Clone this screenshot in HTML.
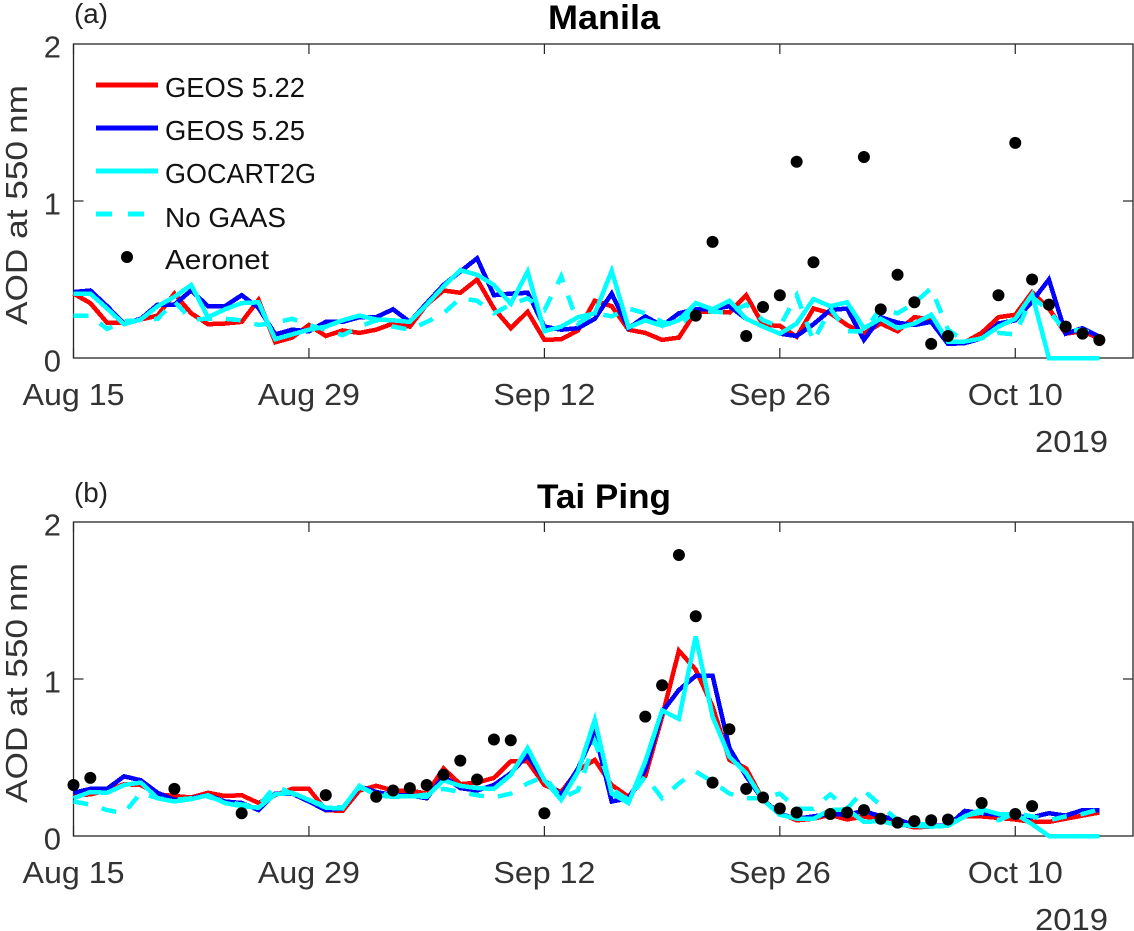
<!DOCTYPE html>
<html lang="en">
<head>
<meta charset="utf-8">
<title>AOD at 550 nm: Manila and Tai Ping</title>
<style>
html,body{margin:0;padding:0;background:#fff;width:1134px;height:931px;overflow:hidden}
svg{display:block}
text{font-family:"Liberation Sans",sans-serif}
.tick{fill:#333;font-size:31px}
.ylab{fill:#333;font-size:31px}
.ttl{fill:#000;font-size:34px;font-weight:bold}
.tag{fill:#222;font-size:28px}
.leg{fill:#111;font-size:28px}
</style>
</head>
<body>
<svg id="figure" xmlns="http://www.w3.org/2000/svg" width="1134" height="931" viewBox="0 0 1134 931">
  <rect x="0" y="0" width="1134" height="931" fill="#fff"/>
  <g id="panel-a"></g>
  <g id="panel-b"></g>

  <text class="tag" x="74" y="23" textLength="34" lengthAdjust="spacingAndGlyphs">(a)</text>
  <text class="ttl" x="604" y="29" text-anchor="middle" textLength="112" lengthAdjust="spacingAndGlyphs">Manila</text>
  <text class="ylab" transform="translate(27,205) rotate(-90)" text-anchor="middle" textLength="240" lengthAdjust="spacingAndGlyphs">AOD at 550&#8201;nm</text>
  <text class="tick" x="1035" y="452" textLength="73" lengthAdjust="spacingAndGlyphs">2019</text>

  <text class="tag" x="74" y="502" textLength="34" lengthAdjust="spacingAndGlyphs">(b)</text>
  <text class="ttl" x="604" y="508" text-anchor="middle" textLength="134" lengthAdjust="spacingAndGlyphs">Tai Ping</text>
  <text class="ylab" transform="translate(27,683) rotate(-90)" text-anchor="middle" textLength="240" lengthAdjust="spacingAndGlyphs">AOD at 550&#8201;nm</text>
  <text class="tick" x="1035" y="930" textLength="73" lengthAdjust="spacingAndGlyphs">2019</text>

  <g>
    <g>
      <line x1="96" y1="85" x2="158" y2="85" stroke="#f00" stroke-width="5"/>
      <text class="leg" x="165" y="97" textLength="140" lengthAdjust="spacingAndGlyphs">GEOS 5.22</text>
    </g>
    <g>
      <line x1="96" y1="128" x2="158" y2="128" stroke="#00f" stroke-width="5"/>
      <text class="leg" x="165" y="140" textLength="140" lengthAdjust="spacingAndGlyphs">GEOS 5.25</text>
    </g>
    <g>
      <line x1="96" y1="171" x2="158" y2="171" stroke="#0ff" stroke-width="5"/>
      <text class="leg" x="165" y="183" textLength="151" lengthAdjust="spacingAndGlyphs">GOCART2G</text>
    </g>
    <g>
      <line x1="96" y1="214" x2="158" y2="214" stroke="#0ff" stroke-width="5" stroke-dasharray="16 16"/>
      <text class="leg" x="165" y="227" textLength="121" lengthAdjust="spacingAndGlyphs">No GAAS</text>
    </g>
    <g>
      <circle cx="127" cy="257" r="6" fill="#000"/>
      <text class="leg" x="165" y="269" textLength="104" lengthAdjust="spacingAndGlyphs">Aeronet</text>
    </g>
  </g>
</svg>

<script>
// Axis tick data
const xTickDays = [0, 14, 28, 42, 56];
const xTickLabels = ["Aug 15", "Aug 29", "Sep 12", "Sep 26", "Oct 10"];
const yTickValues = [0, 1, 2];
const yTickLabels = ["0", "1", "2"];

// Manila daily AOD, one value per day from Aug 15
const manilaGeos522 = [.41,.35,.225,.225,.245,.27,.41,.285,.215,.22,.23,.37,.10,.13,.21,.14,.175,.16,.18,.22,.20,.34,.43,.415,.50,.315,.19,.295,.115,.12,.175,.365,.33,.18,.16,.115,.13,.295,.295,.29,.40,.21,.205,.135,.315,.285,.21,.155,.22,.17,.26,.245,.095,.10,.16,.26,.275,.42,.315,.155,.17,.125];
const manilaGeos525 = [.42,.43,.33,.22,.25,.34,.34,.43,.33,.33,.40,.32,.15,.18,.17,.23,.23,.26,.26,.31,.23,.35,.465,.55,.635,.40,.41,.415,.20,.18,.19,.25,.41,.19,.265,.205,.285,.31,.31,.33,.25,.20,.155,.14,.215,.305,.315,.115,.26,.225,.21,.23,.09,.095,.125,.22,.24,.36,.50,.155,.19,.135];
const manilaGocart2g = [.41,.41,.315,.215,.245,.33,.39,.465,.26,.31,.35,.355,.12,.15,.18,.20,.24,.27,.245,.24,.23,.34,.455,.56,.53,.465,.345,.55,.17,.20,.26,.285,.555,.195,.24,.205,.24,.35,.31,.365,.25,.20,.155,.22,.375,.33,.355,.19,.25,.19,.22,.275,.105,.105,.125,.20,.25,.405,0,0,0,0];
const manilaNoGaas = [.27,.27,.185,.235,.24,.25,.36,.245,.25,.25,.24,.21,.225,.25,.21,.18,.145,.20,.24,.20,.18,.23,.285,.38,.365,.285,.34,.38,.305,.52,.22,.285,.265,.315,.285,.23,.205,.305,.295,.29,.34,.24,.20,.40,.105,.315,.17,.17,.315,.285,.35,.445,.18,.105,.125,.16,.15,.39,.30,.17,.18,.135];
const manilaAeronetDays = [37,38,40,41,42,43,44,47,48,49,50,51,52,55,56,57,58,59,60,61];
const manilaAeronetValues = [.27,.74,.14,.325,.40,1.25,.61,1.28,.31,.53,.355,.09,.14,.40,1.37,.50,.34,.20,.155,.115];

// Tai Ping daily AOD, one value per day from Aug 15
const taiPingGeos522 = [.26,.265,.29,.33,.325,.265,.255,.245,.275,.255,.26,.21,.26,.30,.30,.165,.16,.29,.32,.29,.29,.27,.43,.33,.34,.37,.475,.475,.325,.28,.42,.485,.325,.25,.38,.76,1.18,1.06,.825,.485,.43,.23,.145,.10,.11,.135,.105,.125,.105,.08,.055,.06,.065,.125,.125,.115,.105,.09,.09,.11,.13,.15];
const taiPingGeos525 = [.275,.30,.30,.38,.355,.275,.23,.24,.26,.22,.21,.165,.27,.27,.22,.165,.175,.315,.28,.26,.26,.24,.38,.305,.29,.325,.40,.515,.355,.26,.43,.665,.22,.24,.42,.79,.93,1.02,1.02,.56,.38,.23,.14,.11,.125,.14,.135,.16,.125,.105,.07,.065,.065,.16,.145,.135,.125,.12,.145,.13,.165,.165];
const taiPingGocart2g = [.24,.28,.275,.325,.34,.24,.22,.235,.26,.21,.19,.18,.265,.275,.23,.18,.175,.32,.26,.25,.255,.25,.355,.32,.305,.30,.39,.56,.355,.23,.41,.74,.27,.21,.475,.80,.745,1.27,.76,.505,.40,.23,.135,.11,.11,.165,.17,.09,.095,.07,.065,.06,.065,.125,.17,.14,.14,.075,0,0,0,0];
const taiPingNoGaas = [.22,.20,.165,.145,.275,.24,.23,.24,.25,.22,.20,.19,.32,.27,.23,.19,.18,.31,.27,.26,.25,.265,.30,.28,.26,.245,.27,.335,.38,.24,.29,.60,.30,.23,.38,.24,.335,.41,.345,.27,.24,.24,.27,.175,.175,.265,.175,.29,.195,.10,.08,.07,.07,.13,.15,.10,.145,.125,.10,.125,.14,.17];
const taiPingAeronetDays = [0,1,6,10,15,18,19,20,21,22,23,24,25,26,28,34,35,36,37,38,39,40,41,42,43,45,46,47,48,49,50,51,52,54,56,57];
const taiPingAeronetValues = [.325,.37,.30,.145,.26,.25,.29,.305,.325,.39,.48,.36,.615,.61,.145,.76,.96,1.79,1.40,.34,.68,.30,.245,.175,.15,.14,.15,.165,.11,.085,.095,.10,.105,.21,.14,.19];

const SVG_NS = "http://www.w3.org/2000/svg";
const plotLeft = 73.5, plotRight = 1133;
const dayMax = 63;
const valueMax = 2;

function xScale(day) {
  return plotLeft + (day / dayMax) * (plotRight - plotLeft);
}
function yScale(value, top, bottom) {
  return bottom - (value / valueMax) * (bottom - top);
}
function make(tag, attrs, parent) {
  const el = document.createElementNS(SVG_NS, tag);
  Object.keys(attrs).forEach(function (k) { el.setAttribute(k, attrs[k]); });
  parent.appendChild(el);
  return el;
}

function drawPanel(group, prefix, top, bottom, seriesA, seriesB, seriesC, seriesD, dotDays, dotValues) {
  // plot frame
  const frame = make("rect", {x: plotLeft, y: top, width: plotRight - plotLeft, height: bottom - top, fill: "none", stroke: "#262626", "stroke-width": 1.3}, group);
  
  

  // x ticks
  xTickDays.forEach(function (day, i) {
    const x = xScale(day);
    const tickBottom = make("line", {x1: x, x2: x, y1: bottom, y2: bottom - 10, stroke: "#262626", "stroke-width": 1.2}, group);
    
    
    const tickTop = make("line", {x1: x, x2: x, y1: top, y2: top + 10, stroke: "#262626", "stroke-width": 1.2}, group);
    
    
    const label = make("text", {x: x, y: bottom + 47, "text-anchor": "middle", "class": "tick", textLength: xTickLabels[i].indexOf("Oct") === 0 ? 95 : 102, lengthAdjust: "spacingAndGlyphs"}, group);
    label.textContent = xTickLabels[i];
    
    
  });

  // y ticks
  yTickValues.forEach(function (value, i) {
    const y = yScale(value, top, bottom);
    if (value > 0 && value < valueMax) {
      const tickLeft = make("line", {x1: plotLeft, x2: plotLeft + 10, y1: y, y2: y, stroke: "#262626", "stroke-width": 1.2}, group);
      
      
      const tickRight = make("line", {x1: plotRight, x2: plotRight - 10, y1: y, y2: y, stroke: "#262626", "stroke-width": 1.2}, group);
      
      
    }
    const label = make("text", {x: 61, y: y + 13.5, "text-anchor": "end", "class": "tick"}, group);
    label.textContent = yTickLabels[i];
    
    
  });

  // series lines
  function pts(values) {
    return values.map(function (v, d) {
      return xScale(d).toFixed(1) + "," + yScale(v, top, bottom).toFixed(1);
    }).join(" ");
  }
  const lineRed = make("polyline", {points: pts(seriesA), fill: "none", stroke: "#f00", "stroke-width": 4.5, "stroke-linejoin": "miter", "shape-rendering": "crispEdges"}, group);
  
  
  const lineBlue = make("polyline", {points: pts(seriesB), fill: "none", stroke: "#00f", "stroke-width": 4.5, "stroke-linejoin": "miter", "shape-rendering": "crispEdges"}, group);
  
  
  const lineCyan = make("polyline", {points: pts(seriesC), fill: "none", stroke: "#0ff", "stroke-width": 4.5, "stroke-linejoin": "miter", "shape-rendering": "crispEdges"}, group);
  
  
  const lineDash = make("polyline", {points: pts(seriesD), fill: "none", stroke: "#0ff", "stroke-width": 4.5, "stroke-dasharray": "15 14", "shape-rendering": "crispEdges"}, group);
  
  

  // Aeronet observations
  dotDays.forEach(function (day, i) {
    const dot = make("circle", {cx: xScale(day), cy: yScale(dotValues[i], top, bottom), r: 6, fill: "#000"}, group);
    
    
  });
}

drawPanel(document.getElementById("panel-a"), "manila", 44, 358, manilaGeos522, manilaGeos525, manilaGocart2g, manilaNoGaas, manilaAeronetDays, manilaAeronetValues);
drawPanel(document.getElementById("panel-b"), "tai-ping", 522, 836, taiPingGeos522, taiPingGeos525, taiPingGocart2g, taiPingNoGaas, taiPingAeronetDays, taiPingAeronetValues);
</script>
</body>
</html>
